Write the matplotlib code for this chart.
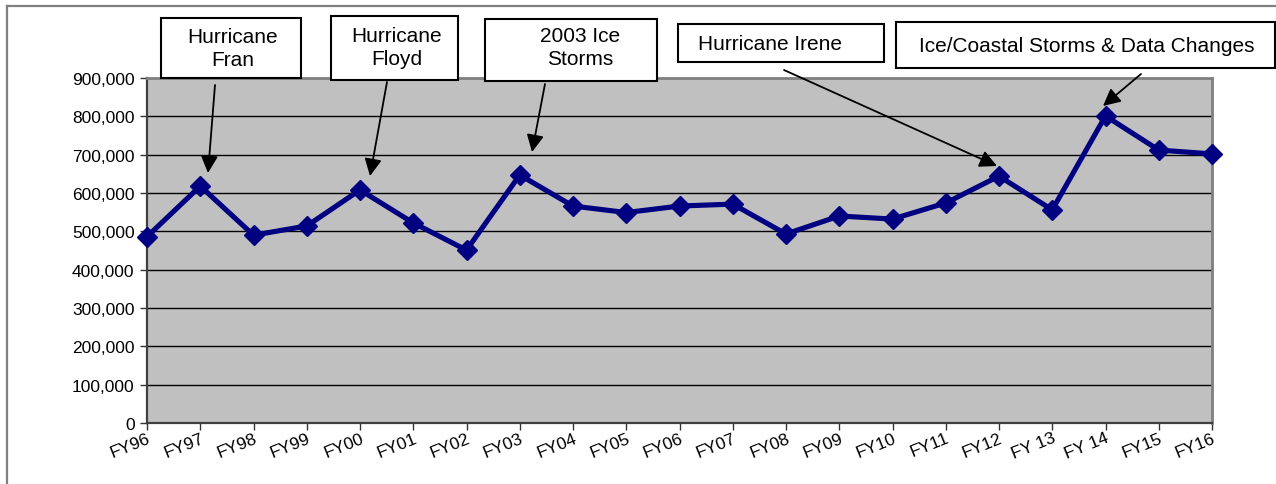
import matplotlib
matplotlib.use("Agg")
import matplotlib.pyplot as plt
from matplotlib.patches import Rectangle
from matplotlib.lines import Line2D
from matplotlib.ticker import FuncFormatter

# Fiscal years and yearly totals
years = ["FY96", "FY97", "FY98", "FY99", "FY00", "FY01", "FY02", "FY03", "FY04",
         "FY05", "FY06", "FY07", "FY08", "FY09", "FY10", "FY11", "FY12", "FY 13",
         "FY 14", "FY15", "FY16"]
totals = [486000, 618000, 490000, 514000, 608000, 522000, 451000, 647000, 566000,
          549000, 566000, 571000, 493000, 540000, 532000, 574000, 644000, 556000,
          801000, 712000, 702000]
y_ticks = [0, 100000, 200000, 300000, 400000, 500000, 600000, 700000, 800000, 900000]

# Event call-outs: label, box (left, top, right, bottom in px), text anchor, arrow start, arrow tip
events = [
    ("Hurricane\nFran", (161, 19, 301, 79), (233, 49, "center"), (215, 86), (208, 174)),
    ("Hurricane\nFloyd", (331, 17, 458, 81), (397, 48, "center"), (387, 83), (370, 177)),
    ("2003 Ice\nStorms", (485, 20, 657, 82), (580, 48, "center"), (545, 85), (532, 153)),
    ("Hurricane Irene", (678, 25, 884, 63), (698, 45, "left"), (784, 71), (997, 167)),
    ("Ice/Coastal Storms & Data Changes", (896, 23, 1275, 69), (1087, 46, "center"),
     (1141, 75), (1103, 107)),
]

W, H = 1276, 485
plt.rcParams["font.family"] = ["Liberation Sans", "DejaVu Sans"]

fig = plt.figure(figsize=(W / 100, H / 100), dpi=100)
fig.patch.set_facecolor("white")


def fx(x):
    return x / W


def fy(y):
    return 1 - y / H


left, right, top, bottom = 147, 1212, 79, 424
ax = fig.add_axes([fx(left), fy(bottom), (right - left) / W, (bottom - top) / H])
ax.set_facecolor("#C0C0C0")

xs = list(range(len(years)))
ax.plot(xs, totals, color="#000080", lw=3.7, marker="D", markersize=10,
        markerfacecolor="#000080", markeredgecolor="#000080", zorder=5, clip_on=False)

ax.set_xlim(0, len(years) - 1)
ax.set_ylim(0, 900000)
ax.set_yticks(y_ticks)
ax.yaxis.set_major_formatter(FuncFormatter(lambda v, p: f"{int(v):,}"))
ax.set_xticks(xs)
ax.set_xticklabels(years, rotation=22, ha="right", va="top", rotation_mode="anchor")

ax.tick_params(axis="y", direction="out", length=5, width=1, color="#333333",
               labelsize=12.5, pad=4)
ax.tick_params(axis="x", direction="out", length=5, width=1, color="#333333",
               labelsize=12.5, pad=0)

for v in y_ticks[1:-1]:
    ax.axhline(v, color="black", lw=1.0, zorder=1)

for side in ("top", "right"):
    ax.spines[side].set_color("#808080")
    ax.spines[side].set_linewidth(2)
for side in ("left", "bottom"):
    ax.spines[side].set_color("#404040")
    ax.spines[side].set_linewidth(1.6)

# Outer chart-area border
fig.add_artist(Line2D([fx(7), fx(7)], [fy(7), 0], color="#808080", lw=1.6))
fig.add_artist(Line2D([fx(7), 1], [fy(7), fy(7)], color="#808080", lw=1.6))

# Call-out boxes with arrows
for label, (bl, bt, br, bb), (tx, ty, ha), (sx, sy), (ex, ey) in events:
    fig.add_artist(Rectangle((fx(bl), fy(bb)), (br - bl) / W, (bb - bt) / H,
                             facecolor="white", edgecolor="black", lw=1.5,
                             zorder=10))
    fig.text(fx(tx), fy(ty), label, ha=ha, va="center", fontsize=15,
             linespacing=1.25, zorder=11)
    ax.annotate("", xy=(fx(ex), fy(ey)), xycoords="figure fraction",
                xytext=(fx(sx), fy(sy)), textcoords="figure fraction",
                arrowprops=dict(arrowstyle="-|>", color="black", lw=1.3,
                                mutation_scale=26, shrinkA=0, shrinkB=0),
                zorder=12, annotation_clip=False)

fig.savefig("out.png", dpi=100)
